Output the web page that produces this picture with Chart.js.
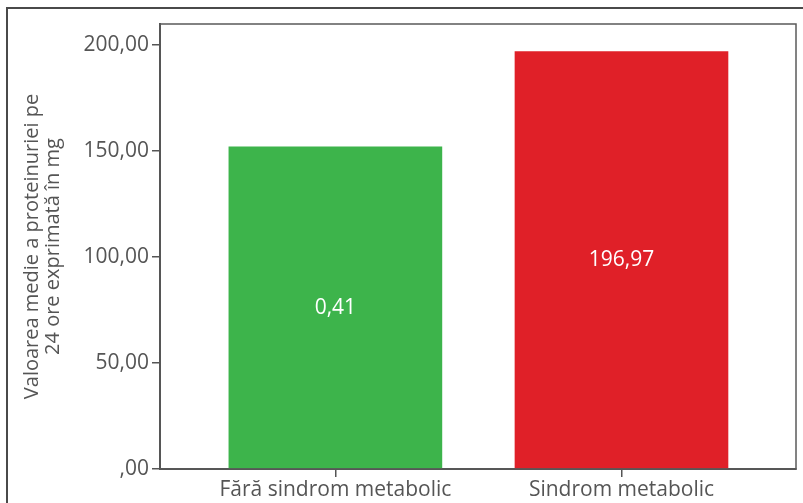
<!DOCTYPE html>
<html>
<head>
<meta charset="utf-8">
<script src="https://cdn.jsdelivr.net/npm/chart.js@4/dist/chart.umd.min.js"></script>
<style>
  html, body { margin: 0; padding: 0; background: #ffffff; }
  #wrap { width: 803px; height: 503px; position: relative; }
</style>
</head>
<body>
<div id="wrap"><canvas id="c" width="803" height="503"></canvas></div>
<script>
// Mean 24-hour proteinuria (mg) by metabolic syndrome status
const categories = ['Fără sindrom metabolic', 'Sindrom metabolic'];
const meanValues = [152, 196.97];
const barNotes = ['0,41', '196,97'];
const barColors = ['#3db44b', '#e02028'];
const yTicks = [0, 50, 100, 150, 200];
const yTitle = ['Valoarea medie a proteinuriei pe', '24 ore exprimată în mg'];

const fmt = v => v === 0 ? ',00' : v.toFixed(2).replace('.', ',');

// outer frame of the figure and the full box around the plot area
const framePlugin = {
  id: 'frames',
  beforeDraw(chart) {
    const ctx = chart.ctx;
    ctx.save();
    ctx.strokeStyle = '#4a4a4a';
    ctx.lineWidth = 2;
    ctx.beginPath();
    ctx.moveTo(7, 520);
    ctx.lineTo(7, 8);
    ctx.lineTo(820, 8);
    ctx.stroke();
    ctx.restore();
  },
  afterDatasetsDraw(chart) {
    const ctx = chart.ctx;
    const a = chart.chartArea;
    ctx.save();
    ctx.strokeStyle = '#5a5a5a';
    ctx.lineWidth = 1.5;
    ctx.strokeRect(a.left, a.top, a.right - a.left, a.bottom - a.top);
    ctx.restore();
  }
};

// text printed in the middle of each bar
const notePlugin = {
  id: 'barNotes',
  afterDatasetsDraw(chart) {
    const ctx = chart.ctx;
    const meta = chart.getDatasetMeta(0);
    ctx.save();
    ctx.fillStyle = '#ffffff';
    ctx.font = "21px 'Open Sans'";
    ctx.textAlign = 'center';
    ctx.textBaseline = 'middle';
    meta.data.forEach((bar, i) => {
      ctx.fillText(barNotes[i], bar.x, (bar.y + bar.base) / 2);
    });
    ctx.restore();
  }
};

new Chart(document.getElementById('c'), {
  type: 'bar',
  data: {
    datasets: [{
      data: categories.map((c, i) => ({ x: i, y: meanValues[i] })),
      backgroundColor: barColors,
      borderWidth: 0,
      barThickness: 213
    }]
  },
  options: {
    responsive: false,
    animation: false,
    events: [],
    layout: { padding: { top: 24, right: 7, left: 0, bottom: 0 } },
    plugins: { legend: { display: false }, tooltip: { enabled: false } },
    scales: {
      x: {
        type: 'linear',
        offset: false,
        min: -0.613,
        max: 1.61,
        afterBuildTicks: s => { s.ticks = categories.map((c, i) => ({ value: i })); },
        afterFit: s => { s.height = 34; },
        ticks: {
          callback: v => categories[v],
          color: '#555555',
          font: { family: "'Open Sans'", size: 21 },
          padding: 0,
          maxRotation: 0,
          autoSkip: false
        },
        grid: { offset: false, drawOnChartArea: false, tickLength: 8, color: '#555555', lineWidth: 1.5 },
        border: { color: '#4f4f4f', width: 2 }
      },
      y: {
        min: 0,
        max: 210,
        afterBuildTicks: s => { s.ticks = yTicks.map(v => ({ value: v })); },
        afterFit: s => { s.width = 160; },
        ticks: {
          callback: v => fmt(v),
          color: '#555555',
          font: { family: "'Open Sans'", size: 21 },
          padding: 3
        },
        grid: { drawOnChartArea: false, tickLength: 8, color: '#555555', lineWidth: 1.5 },
        border: { color: '#4f4f4f', width: 2 },
        title: {
          display: true,
          text: yTitle,
          color: '#555555',
          font: { family: "'Open Sans'", size: 20, lineHeight: 1.05 },
          padding: { top: 22, bottom: 0 }
        }
      }
    }
  },
  plugins: [framePlugin, notePlugin]
});
</script>
</body>
</html>
